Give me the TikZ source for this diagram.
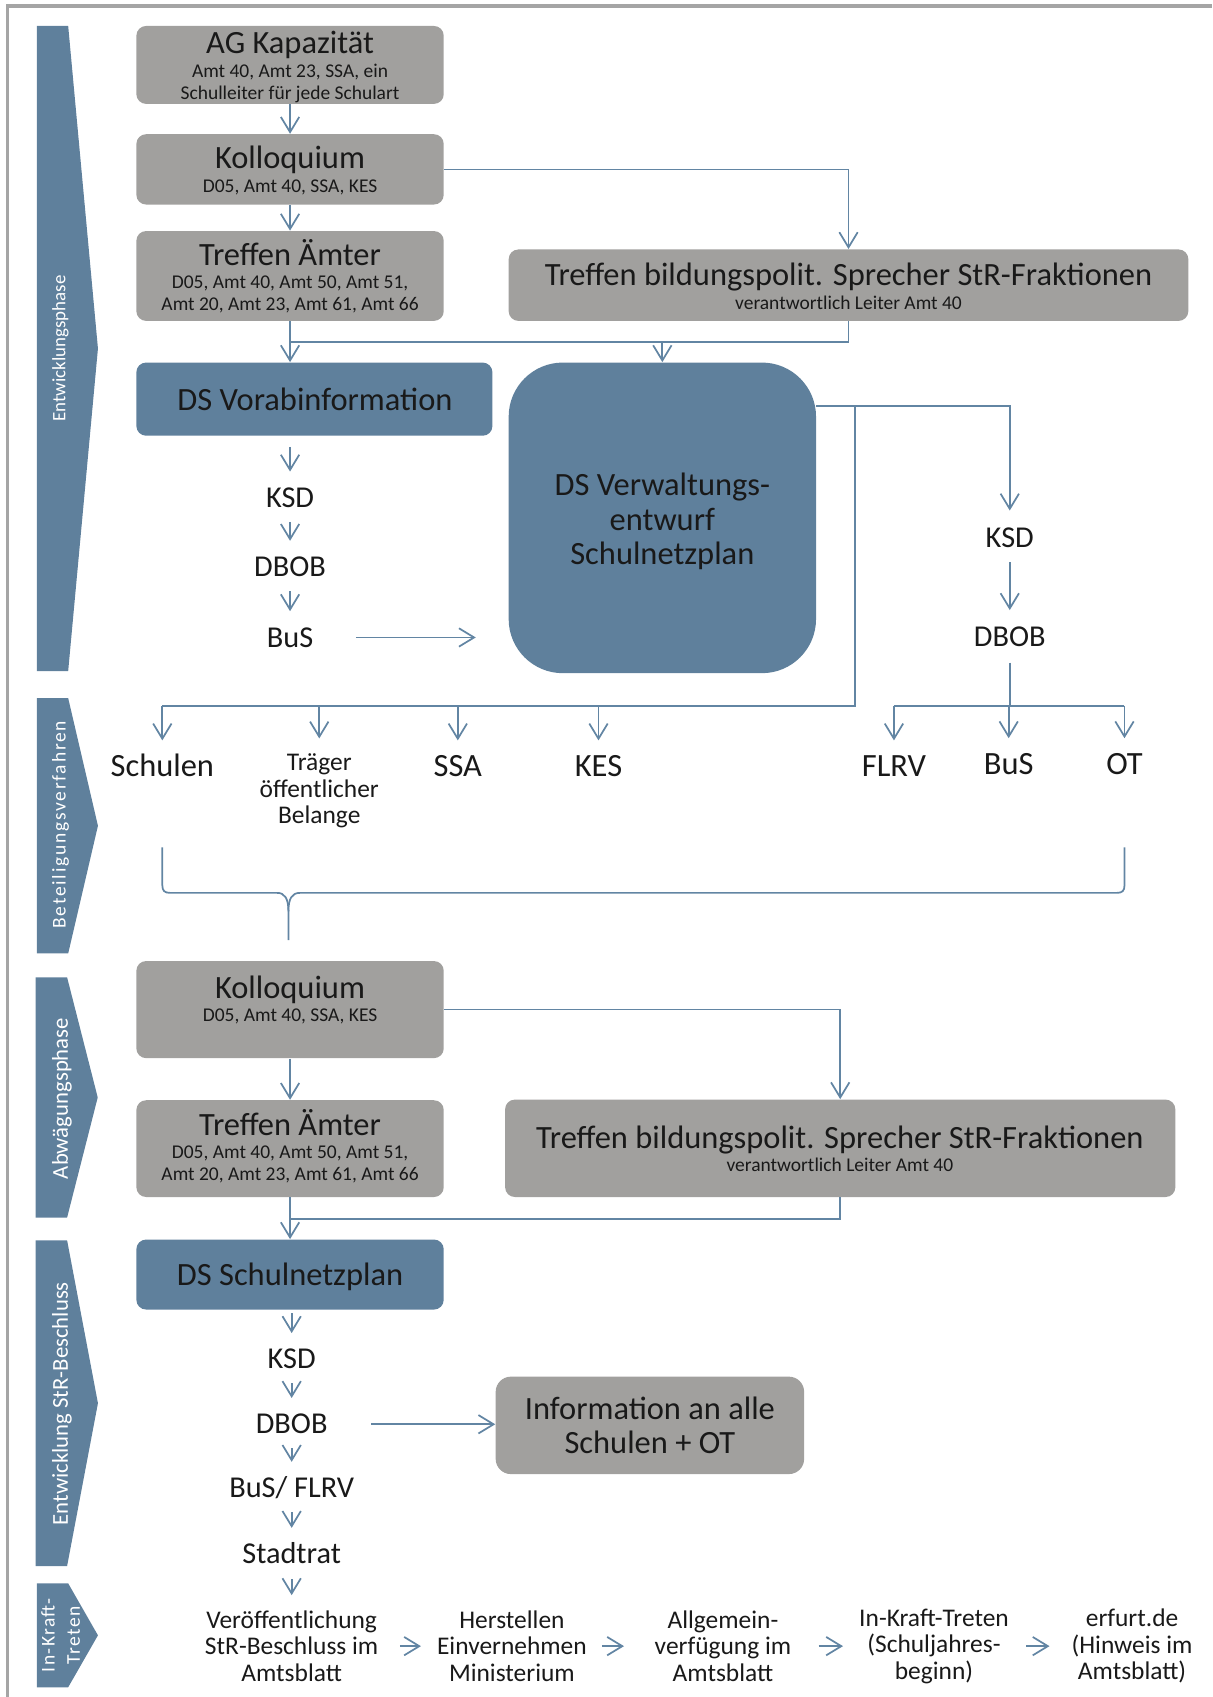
\documentclass[tikz,border=0pt]{standalone}
\usepackage{fontspec}
\setmainfont{Carlito}
\usetikzlibrary{arrows.meta,fit,calc}
\definecolor{bl}{RGB}{95,128,156}
\definecolor{gr}{RGB}{161,160,158}
\definecolor{lc}{RGB}{98,133,163}
\definecolor{fr}{RGB}{165,165,165}
\definecolor{txt}{RGB}{25,25,25}
\begin{document}
\begin{tikzpicture}[x=0.5pt,y=-0.5pt,
  gbox/.style={fill=gr, rounded corners=4.5pt, inner sep=0pt},
  bbox/.style={fill=bl, rounded corners=4.5pt, inner sep=0pt},
  title/.style={font=\fontsize{15}{18}\selectfont, text=txt, inner sep=0pt, text height=9.5pt, text depth=0pt},
  sub/.style={font=\fontsize{9}{10}\selectfont, text=txt, inner sep=0pt, text height=5.7pt, text depth=0pt},
  lbl/.style={font=\fontsize{14}{16}\selectfont, text=txt, inner sep=0pt, text height=8.9pt, text depth=0pt},
  small/.style={font=\fontsize{11.75}{12.25}\selectfont, text=txt, inner sep=0pt, align=center},
  big/.style={font=\fontsize{15}{16}\selectfont, text=txt, inner sep=0pt, align=center},
  ln/.style={draw=lc, line width=0.8pt},
  arr/.style={ln, -{Straight Barb[length=7pt,width=8.5pt,line width=0.8pt]}},
  sarr/.style={arr, shorten <=6.5pt, shorten >=7.5pt},
  phtext/.style={text=white, inner sep=0pt, rotate=90, text depth=0pt},
]
\useasboundingbox (0,0) rectangle (1120,1568);
% frame
\draw[fr, line width=1.5pt] (6.8,1568) -- (6.8,5.5) -- (1120,5.5);
% phase arrows
\fill[bl] (34,24) -- (63,24) -- (90.5,322) -- (63,620) -- (34,620) -- cycle;
\fill[bl] (34,645) -- (63,645) -- (90.5,763) -- (63,881) -- (34,881) -- cycle;
\fill[bl] (33,903) -- (62,903) -- (90.3,1014) -- (62,1125) -- (33,1125) -- cycle;
\fill[bl] (33,1146) -- (62,1146) -- (90.5,1296.5) -- (62,1447) -- (33,1447) -- cycle;
\fill[bl] (34,1463) -- (63,1463) -- (90.5,1511) -- (63,1559) -- (34,1559) -- cycle;
\node[phtext, font=\fontsize{8.75}{10}\selectfont, text height=5.5pt] (ph1) at (55,322) {Entwicklungsphase};
\node[phtext, font=\fontsize{9}{10}\selectfont\addfontfeature{LetterSpace=9}, text height=5.7pt] (ph2) at (55,762) {Beteiligungsverfahren};
\node[phtext, font=\fontsize{10.5}{12}\selectfont, text height=6.6pt] (ph3) at (56,1015) {Abwägungsphase};
\node[phtext, font=\fontsize{10.5}{12}\selectfont, text height=6.6pt] (ph4) at (56,1297) {Entwicklung StR-Beschluss};
\node[text=white, inner sep=0pt, rotate=90, align=center, font=\fontsize{9}{11.7}\selectfont\addfontfeature{LetterSpace=7}] (ph5) at (56,1511) {In-Kraft-\\Treten};
% boxes
\node[gbox, fit={(126,24) (410,96)}] (ag) {};
\node[gbox, fit={(126,124) (410,189)}] (kol1) {};
\node[gbox, fit={(126,213.5) (410,296.5)}] (tae1) {};
\node[gbox, fit={(470,230.5) (1098,296.5)}] (tbp1) {};
\node[bbox, fit={(126,335) (455,402.6)}] (dsvor) {};
\node[bbox, rounded corners=25pt, fit={(470,335) (754,622)}] (dsverw) {};
\node[gbox, fit={(126,888) (410,977.7)}] (k2) {};
\node[gbox, fit={(126,1016.6) (410,1106)}] (tae2) {};
\node[gbox, fit={(466.7,1016) (1086,1106)}] (tbp2) {};
\node[bbox, fit={(126,1145.3) (410,1210)}] (dss) {};
\node[gbox, rounded corners=7pt, fit={(458,1272) (743,1362)}] (info) {};
% box texts
\node[title] (agT) at (268,40) {AG Kapazität};
\node[sub] (agS1) at (268,66) {Amt 40, Amt 23, SSA, ein};
\node[sub] (agS2) at (268,86) {Schulleiter für jede Schulart};
\node[title] (kol1T) at (268,146.6) {Kolloquium};
\node[sub] (kol1S) at (268,172.5) {D05, Amt 40, SSA, KES};
\node[title] (tae1T) at (268,235.7) {Treffen Ämter};
\node[sub] (tae1S1) at (268,261.2) {D05, Amt 40, Amt 50, Amt 51,};
\node[sub] (tae1S2) at (268,281) {Amt 20, Amt 23, Amt 61, Amt 66};
\node[title] (tbp1T) at (784,254.5) {Treffen bildungspolit. Sprecher StR-Fraktionen};
\node[sub] (tbp1S) at (784,280.5) {verantwortlich Leiter Amt 40};
\node[title] (dsvorT) at (291,369.7) {DS Vorabinformation};
\node[big] (dsverwT) at (612,482) {DS Verwaltungs-\\entwurf\\Schulnetzplan};
\node[title] (k2T) at (268,913) {Kolloquium};
\node[sub] (k2S) at (268,938) {D05, Amt 40, SSA, KES};
\node[title] (tae2T) at (268,1040) {Treffen Ämter};
\node[sub] (tae2S1) at (268,1065) {D05, Amt 40, Amt 50, Amt 51,};
\node[sub] (tae2S2) at (268,1085) {Amt 20, Amt 23, Amt 61, Amt 66};
\node[title] (tbp2T) at (776,1052) {Treffen bildungspolit. Sprecher StR-Fraktionen};
\node[sub] (tbp2S) at (776,1077) {verantwortlich Leiter Amt 40};
\node[title] (dssT) at (268,1178) {DS Schulnetzplan};
\node[big] (infoT) at (600.5,1317) {Information an alle\\Schulen + OT};
% stack labels
\node[lbl] (ksd1) at (268,460) {KSD};
\node[lbl] (dbob1) at (268,524) {DBOB};
\node[lbl] (bus1) at (268,589) {BuS};
\node[lbl] (ksd3) at (933,497) {KSD};
\node[lbl] (dbob3) at (933,588) {DBOB};
\node[lbl] (ksd4) at (269.5,1256) {KSD};
\node[lbl] (dbob4) at (269.5,1316) {DBOB};
\node[lbl] (busflrv) at (269.5,1375) {BuS/ FLRV};
\node[lbl] (stadtrat) at (269.5,1436) {Stadtrat};
% row labels
\node[title] (schulen) at (150,708) {Schulen};
\node[small] (traeger) at (295,731) {Träger\\öffentlicher\\Belange};
\node[title] (ssa) at (423,708) {SSA};
\node[title] (kes) at (553,708) {KES};
\node[title] (flrv) at (826,708) {FLRV};
\node[title] (bus3) at (932,706) {BuS};
\node[title] (ot) at (1039,706) {OT};
% bottom row
\node[small] (v1) at (269.5,1521) {Veröffentlichung\\StR-Beschluss im\\Amtsblatt};
\node[small] (v2) at (473,1521) {Herstellen\\Einvernehmen\\Ministerium};
\node[small] (v3) at (668,1521) {Allgemein-\\verfügung im\\Amtsblatt};
\node[small] (v4) at (863,1521) {In-Kraft-Treten\\(Schuljahres-\\beginn)};
\node[small] (v5) at (1046,1521) {erfurt.de\\(Hinweis im\\Amtsblatt)};
% connectors top
\coordinate (j1) at (0,316);
\coordinate (yR) at (0,375);
\coordinate (tap) at (790,375);
\coordinate (busL) at (790,652);
\coordinate (busR) at (933,652);
\draw[arr] (ag) -- (kol1);
\draw[arr] (kol1) -- (tae1);
\draw[arr] (kol1.east) -| (tbp1.north);
\draw[ln] (tbp1.south) |- (tae1.south |- j1);
\draw[arr] (tae1.south) -- (tae1.south |- dsvor.north);
\draw[arr] (dsverw.north |- j1) -- (dsverw.north);
\draw[arr, shorten <=5pt, shorten >=7.5pt] (dsvor.south -| ksd1.north) -- (ksd1.north);
\draw[sarr] (ksd1) -- (dbob1);
\draw[sarr] (dbob1) -- (bus1);
\draw[arr, shorten <=19.5pt, shorten >=15pt] (bus1.east) -- (bus1.east -| dsverw.west);
\draw[arr, shorten >=8pt] (dsverw.east |- yR) -| (ksd3.north);
\draw[sarr] (ksd3) -- (dbob3);
\draw[ln] (tap) -- (busL) -- (busL -| schulen.north);
\foreach \n in {schulen,traeger,ssa,kes}
  \draw[arr, shorten >=7pt] (busL -| \n.north) -- (\n.north);
\draw[ln, shorten <=7.5pt] (dbob3.south) -- (busR);
\draw[ln] (busR -| flrv.north) -- (busR -| ot.north);
\foreach \n in {flrv,bus3,ot}
  \draw[arr, shorten >=7pt] (busR -| \n.north) -- (\n.north);
% brace
\draw[ln] (150,783) -- (150,818) .. controls (150,823) and (152,825) .. (157,825) -- (256,825) .. controls (263,825) and (266.5,830) .. (266.5,842) -- (266.5,868.6);
\draw[ln] (266.5,842) .. controls (266.5,830) and (270,825) .. (277,825) -- (1032,825) .. controls (1037,825) and (1039,823) .. (1039,818) -- (1039,783);
% connectors bottom
\coordinate (j2) at (0,1126);
\draw[arr] (k2) -- (tae2);
\draw[arr] (k2.east) -| (tbp2.north);
\draw[ln] (tbp2.south) |- (tae2.south |- j2);
\draw[arr] (tae2) -- (dss);
\draw[arr, shorten <=1.5pt, shorten >=7.5pt] (dss.south -| ksd4.north) -- (ksd4.north);
\draw[sarr] (ksd4) -- (dbob4);
\draw[sarr] (dbob4) -- (busflrv);
\draw[sarr] (busflrv) -- (stadtrat);
\draw[arr, shorten <=7pt, shorten >=7pt] (stadtrat) -- (v1);
\draw[arr, shorten <=20pt] (dbob4.east) -- (dbob4.east -| info.west);
\draw[arr, shorten <=9.75pt, shorten >=7.25pt] (v1) -- (v2);
\draw[arr, shorten <=6.75pt, shorten >=14pt] (v2) -- (v3);
\draw[arr, shorten <=12.5pt, shorten >=7.3pt] (v3) -- (v4);
\draw[arr, shorten <=7.8pt, shorten >=10pt] (v4) -- (v5);
\end{tikzpicture}
\end{document}
